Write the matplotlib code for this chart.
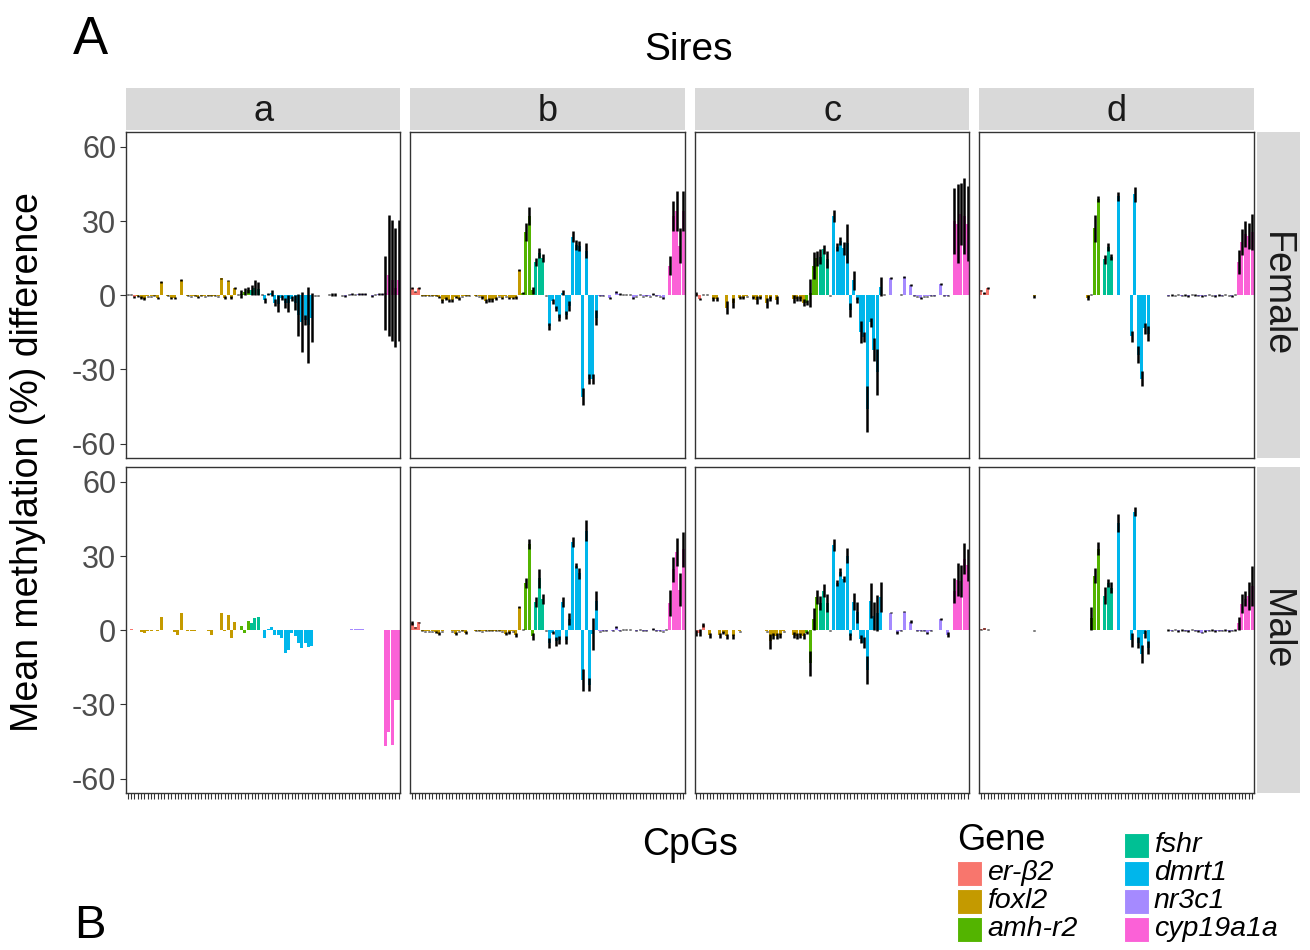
import numpy as np
import matplotlib
matplotlib.use('Agg')
import matplotlib.pyplot as plt
from matplotlib.patches import Rectangle

plt.rcParams['font.family'] = ['Liberation Sans', 'DejaVu Sans']

nan = float('nan')

# genes in CpG order and the number of CpGs in each
genes = ['er-β2', 'foxl2', 'amh-r2', 'fshr', 'dmrt1', 'nr3c1', 'cyp19a1a']
gene_sizes = [3, 30, 4, 4, 15, 21, 5]
gene_colors = ['#F8766D', '#C49A00', '#53B400', '#00C094', '#00B6EB', '#A58AFF', '#FB61D7']

sires = ['a', 'b', 'c', 'd']
sexes = ['Female', 'Male']

# ---- sire a ----
a_female_mean = ([0.3, 0.2, -0.8] +
                 [-0.3, -1, -1.5, -0.5, -0.5, -0.3, -1.2, 5.5, 0, -0.3, -1, -1, 0, 6.2, 0,
                  -0.3, -0.5, -0.3, -0.8, -0.3, -0.4, -0.3, -0.3, -0.2, -0.5, 6.8, -1, 5.9, -1, 2.8] +
                 [0.3, 0.5, 1.5, 2.0] +
                 [2, 3, 2.6, 0.3] +
                 [-2, 0.5, 1, -3, -3.4, -1, -3.2, -3.3, -1.5, -3, -8, -10.8, -10, -12, -9] +
                 [0, 0, 0.1, 0.1, 0.2, 0.3, 0.3, 0.1, 0, -0.3, 0.3, 0.5, 0.3, 0.6, 0.6, 0.5, 0.1, -0.3, 0.3, 0.4, 0.5] +
                 [1, 8, 6, 3, 6])
a_female_se = ([0.3, 0.2, 0.3] +
               [0.3, 0.5, 0.6, 0.3, 0.3, 0.2, 0.5, 0.4, 0.1, 0.2, 0.4, 0.4, 0.1, 0.3, 0.1,
                0.2, 0.3, 0.2, 0.3, 0.2, 0.2, 0.2, 0.2, 0.2, 0.3, 0.3, 0.5, 0.3, 0.5, 0.4] +
               [0.3, 1.7, 1.4, 1.2] +
               [2, 3, 2.6, 0.3] +
               [1, 0.3, 1.3, 1.5, 3.4, 1.1, 2, 3.5, 1, 3, 8.4, 12, 2, 15.4, 10] +
               [0.2, 0.2, 0.2, 0.2, 0.3, 0.5, 0.5, 0.2, 0.2, 0.3, 0.3, 0.3, 0.3, 0.3, 0.3, 0.3, 0.2, 0.3, 0.4, 0.4, 0.4] +
               [15, 24.5, 24.5, 24, 24.5])
a_male_mean = ([0, 0.6, 0] +
               [0, -0.8, -1, -0.5, -0.3, 0, -0.3, 5.5, 0, 0, 0, -0.8, -1.8, 7.1, 0,
                -0.3, -0.3, -0.3, 0, 0, 0, -0.5, -1.8, 0, 0, 7.1, -0.5, 6, -3, 3.5] +
               [0, 1.7, -1.2, 3.9] +
               [3, 4.8, 5.2, 0] +
               [-3, 0.5, 1.3, -2, -2, -3, -9, -8, -1, -2.5, -5, -7, -5, -6.7, -6.5] +
               [0, 0, 0, 0, 0, 0, 0, 0, 0, 0, 0, 0.4, 0.4, 0.4, 0.4, 0, 0, 0, 0, 0.3, 0] +
               [-47, -41, -46.5, -28, -28])
a_male_se = [nan] * 82

# ---- sire b ----
b_female_mean = ([3, 1.5, 3] +
                 [-0.2, -0.3, -0.3, -0.3, -0.2, -0.8, -2.5, -1.5, -2, -2, -0.8, -1.5, -0.5, -0.3, -0.2,
                  0, -0.2, -0.5, -1, -2.2, -2, -2, -1.5, -0.5, -1, -0.5, -1, -1, -1, 10.2] +
                 [1, 25.6, 32, 2] +
                 [13.5, 17, 15, 0] +
                 [-12.6, -2.5, -5.5, -9, 1, -8, -4.5, 23.6, 20.3, 20, -41, 18, -34, -34, -9] +
                 [-0.3, -0.2, 0, -1, 0, 1.5, 0.5, 0.3, 0.3, 0.3, -1, -0.5, 0.3, -0.5, -0.3, -0.5, 0.5, -0.3, -0.5, -1, 0] +
                 [12, 32, 34, 20, 34])
b_female_se = ([0.5, 0.3, 0.5] +
               [0.2, 0.2, 0.2, 0.2, 0.2, 0.4, 0.8, 0.6, 0.6, 0.6, 0.4, 0.6, 0.3, 0.2, 0.2,
                0.1, 0.2, 0.3, 0.5, 0.8, 0.7, 0.7, 0.6, 0.3, 0.4, 0.3, 0.4, 0.4, 0.5, 0.3] +
               [0.5, 3.5, 3.5, 1.5] +
               [1.5, 2, 1.5, 0.2] +
               [1.5, 1, 1, 1.5, 1, 1.5, 2, 2.2, 2, 2, 3.5, 3, 2, 2, 3] +
               [0.2, 0.2, 0.1, 0.4, 0.1, 0.4, 0.3, 0.3, 0.3, 0.3, 0.4, 0.3, 0.3, 0.3, 0.2, 0.3, 0.3, 0.2, 0.3, 0.4, 0.1] +
               [4, 6, 8, 7, 8])
b_male_mean = ([2.8, 1.2, 3.2] +
               [-0.3, -0.5, -0.5, -0.5, -0.8, -1.5, -0.5, 0, 0, -0.5, -1.5, -0.5, -0.3, -1, 0,
                0, -0.3, -0.3, -0.5, -0.3, -0.3, -0.3, -0.3, -0.3, -0.5, -1.5, -1, -0.5, -2, 9.5] +
               [0.2, 19, 35, -2.5] +
               [11.5, 21, 12.5, 0] +
               [-5, -1, -4.5, -4, 11.5, -4, 4.5, 35.6, 26, 23, -20, 40.3, -22, -1.5, 12] +
               [-0.5, -0.3, -0.2, 0, -0.2, 1.5, -0.3, 0.3, 0.3, 0.3, 0, -0.2, 0.3, -0.2, -0.3, 0, 0.5, -0.3, -0.3, -0.5, 0.3] +
               [11, 24.7, 31.6, 16.4, 32.7])
b_male_se = ([0.8, 0.3, 0.3] +
             [0.2, 0.3, 0.3, 0.3, 0.4, 0.6, 0.3, 0.1, 0.1, 0.3, 0.6, 0.3, 0.2, 0.5, 0.1,
              0.1, 0.2, 0.2, 0.3, 0.2, 0.2, 0.2, 0.2, 0.2, 0.3, 0.6, 0.5, 0.3, 0.8, 0.4] +
             [0.2, 2, 2, 1.5] +
             [2, 3.8, 2, 0.2] +
             [2, 0.5, 1.7, 1.5, 2, 1.5, 2.3, 2, 1, 2.3, 4.4, 4.4, 2.7, 6.4, 4] +
             [0.3, 0.2, 0.2, 0.1, 0.2, 0.4, 0.2, 0.3, 0.3, 0.3, 0.1, 0.2, 0.3, 0.2, 0.2, 0.1, 0.3, 0.2, 0.2, 0.3, 0.2] +
             [5.4, 5, 5.7, 6.7, 7])

# ---- sire c ----
c_female_mean = ([0.5, -1.5, 0.3] +
                 [0.2, 0, -1.5, -1.5, 0, 0, -5, 0, -3, 0, -1, -1, -0.5, 0, -1,
                  -2, -1, 0, -3, -1.5, 0, -2, 0, 0, 0, 0, -1.5, -1.5, -1.5, -3] +
                 [-3, 1, 12, 15] +
                 [15.5, 18.5, 14.5, 0] +
                 [32, 19.5, 22, 19, 21, -6, 6, -2, -15, -17, -46, -11, -22, -31, 3.5] +
                 [0.3, 0, 6.8, 0, 0, 0.2, 7.5, 0, 4, -0.3, -0.5, -1, -0.5, -0.5, -0.3, -0.3, 0, 4.5, -0.3, -0.3, 0] +
                 [30, 29, 33, 32, 29])
c_female_se = ([0.8, 0.5, 0.3] +
               [0.2, 0, 0.8, 0.8, 0, 0, 2.5, 0, 2, 0, 0.5, 0.5, 0.3, 0, 0.5,
                1.5, 0.5, 0, 2, 1, 0, 1.5, 0, 0, 0, 0, 1.5, 1, 1, 1.5] +
               [1, 5.7, 5.4, 3] +
               [3, 2, 3.4, 0.2] +
               [2.3, 1.5, 1.5, 2.7, 8, 2.7, 4, 1.3, 4.4, 2, 9.4, 2, 4.7, 9.4, 4] +
               [0.2, 0.1, 0.4, 0.1, 0.1, 0.2, 0.4, 0.1, 0.4, 0.2, 0.3, 0.4, 0.3, 0.3, 0.2, 0.2, 0.1, 0.4, 0.2, 0.2, 0.1] +
               [13.5, 15.8, 12.5, 15.5, 15])
c_male_mean = ([-1, -1, 2] +
               [0, -2, 0, 0, -2, -1, -2.5, 0, -2.5, 0, -0.5, 0, 0, 0, 0,
                0, 0, 0, -0.5, -4.5, -2.5, -2.5, -2, -0.5, 0, 0, -2, -2.5, -2, -2.5] +
               [-1, -13.4, 4.5, 13.5] +
               [11, 16, 11, 0] +
               [34.5, 19, 23.5, 20.8, 30.2, -2.5, 11.6, 7.2, -3.5, -5, -16, 12, 5.8, 7, 13.5] +
               [0.2, 0, 7.1, 0, -1, -0.3, 7.5, 0, 3.5, 0, -0.3, -0.3, -0.3, -1.2, -0.3, 0, 0, 4.5, 0, -1.8, 0] +
               [16, 20.5, 20, 29, 26.5])
c_male_se = ([1.2, 1.5, 0.8] +
             [0, 1, 0, 0, 1, 0.5, 1, 0, 1, 0, 0.3, 0, 0, 0, 0,
              0, 0, 0, 0.3, 3, 1.2, 1.2, 1, 0.3, 0, 0, 1.2, 1.2, 1, 1.2] +
             [0.5, 5, 4.4, 2.7] +
             [3, 2.7, 3.7, 0.2] +
             [2.3, 1.3, 1.7, 1.3, 3.2, 1.3, 3.5, 4.4, 1.7, 2.3, 5.7, 7, 5.7, 7.4, 6] +
             [0.1, 0.1, 0.3, 0.1, 0.5, 0.2, 0.3, 0.1, 0.7, 0.1, 0.2, 0.2, 0.2, 0.5, 0.2, 0.1, 0.1, 0.3, 0.1, 1, 0.1] +
             [5, 6.7, 6.4, 6.4, 6.4])

# ---- sire d (many CpGs missing) ----
d_female_mean = ([2, 1, 3] +
                 [nan] * 13 + [-0.5] + [nan] * 15 + [-1] +
                 [0.3, 27, 39, nan] +
                 [14.5, 19.5, 15.5, nan] +
                 [40, nan, nan, nan, -16.6, 40.8, -24, -33.8, -13.4, -15.6, nan, nan, nan, nan, nan] +
                 [-0.2, 0.1, -0.1, 0.2, -0.2, 0.1, -0.3, 0.2, 0.1, -0.2, -0.3, -0.2, 0.2, -0.1, -0.3, 0.1, -0.2, 0.2, -0.1, -0.3, 0.2] +
                 [13.4, 21.5, 24.8, 24, 25.5])
d_female_se = ([0.3, 0.5, 0.5] +
               [nan] * 13 + [0.5] + [nan] * 15 + [1] +
               [0.2, 5.4, 1.2, nan] +
               [1.7, 1.7, 1.3, nan] +
               [1.7, nan, nan, nan, 2.3, 3, 3.4, 3, 2.3, 3, nan, nan, nan, nan, nan] +
               [0.3] * 21 +
               [5, 5.4, 5.4, 5.4, 7.4])
d_male_mean = ([0.5, 0.8, 0.3] +
               [nan] * 13 + [0] + [nan] * 16 +
               [4.8, 22, 33, nan] +
               [14, 19.2, 17.2, nan] +
               [43.4, nan, nan, nan, -4, 48, -5, -9.7, -1.6, -7, nan, nan, nan, nan, nan] +
               [0.1, -0.2, 0.2, -0.3, 0.1, -0.2, -0.3, 0.2, -0.2, -0.3, -1, -0.3, -0.2, 0.1, -0.3, -0.2, -0.2, 0.1, -0.3, -0.2, 0.1] +
               [2.8, 10.8, 12.8, 13.7, 18])
d_male_se = ([0.2, 0.2, 0.2] +
             [nan] * 13 + [0.3] + [nan] * 16 +
             [4.7, 3, 2.7, nan] +
             [3.4, 1.7, 2.3, nan] +
             [3.7, nan, nan, nan, 2.7, 1.7, 2.3, 3.7, 1.6, 2.7, nan, nan, nan, nan, nan] +
             [0.3] * 21 +
             [2.7, 4, 3, 5.7, 8])

panels = {
    ('a', 'Female'): (a_female_mean, a_female_se), ('a', 'Male'): (a_male_mean, a_male_se),
    ('b', 'Female'): (b_female_mean, b_female_se), ('b', 'Male'): (b_male_mean, b_male_se),
    ('c', 'Female'): (c_female_mean, c_female_se), ('c', 'Male'): (c_male_mean, c_male_se),
    ('d', 'Female'): (d_female_mean, d_female_se), ('d', 'Male'): (d_male_mean, d_male_se),
}

n_cpg = sum(gene_sizes)
x = np.arange(1, n_cpg + 1)
bar_colors = np.repeat(gene_colors, gene_sizes)

W, H = 1310, 950
fig = plt.figure(figsize=(W / 100, H / 100), dpi=100)


def rect(x0, y0, x1, y1):
    # pixel box (top-left origin) -> figure fraction
    return [x0 / W, 1 - y1 / H, (x1 - x0) / W, (y1 - y0) / H]


col_left = [126, 410.4, 694.8, 979.2]
col_w = 274.5
row_top = [132, 467]
row_h = 326
strip_grey = '#D9D9D9'

for r, sex in enumerate(sexes):
    for c, sire in enumerate(sires):
        x0 = col_left[c]
        y0 = row_top[r]
        ax = fig.add_axes(rect(x0, y0, x0 + col_w, y0 + row_h))
        mean, se = panels[(sire, sex)]
        mean = np.array(mean, dtype=float)
        se = np.array(se, dtype=float)
        assert len(mean) == n_cpg and len(se) == n_cpg
        ax.bar(x, np.nan_to_num(mean), width=0.9, color=bar_colors, linewidth=0)
        ok = np.isfinite(se) & np.isfinite(mean)
        ax.vlines(x[ok], mean[ok] - se[ok], mean[ok] + se[ok], color='black', lw=1.8)
        ax.set_xlim(0.5, n_cpg + 0.5)
        ax.set_ylim(-65.8, 66.0)
        for sp in ax.spines.values():
            sp.set_color('#333333')
            sp.set_linewidth(1.0)
        ax.set_yticks([-60, -30, 0, 30, 60])
        if c == 0:
            ax.set_yticklabels(['-60', '-30', '0', '30', '60'])
            ax.tick_params(axis='y', length=4, width=0.8, color='#333333',
                           labelsize=22, labelcolor='#4D4D4D', pad=3)
        else:
            ax.tick_params(axis='y', length=0, labelleft=False)
        if r == 1:
            ax.set_xticks(x)
            ax.tick_params(axis='x', length=4, width=0.8, color='#333333', labelbottom=False)
        else:
            ax.set_xticks([])

        if r == 0:
            sax = fig.add_axes(rect(x0, 88, x0 + col_w, 130))
            sax.set_facecolor(strip_grey)
            sax.set_xticks([])
            sax.set_yticks([])
            for sp in sax.spines.values():
                sp.set_visible(False)
            sax.text(0.5, 0.45, sire, ha='center', va='center', fontsize=26, color='#1A1A1A',
                     transform=sax.transAxes)
    rax = fig.add_axes(rect(1257, row_top[r], 1300, row_top[r] + row_h))
    rax.set_facecolor(strip_grey)
    rax.set_xticks([])
    rax.set_yticks([])
    for sp in rax.spines.values():
        sp.set_visible(False)
    rax.text(0.45, 0.5, sex, ha='center', va='center', rotation=-90, fontsize=27,
             color='#1A1A1A', transform=rax.transAxes)

# titles
fig.text(688 / W, 1 - 50 / H, 'Sires', ha='center', va='center', fontsize=28)
fig.text(690 / W, 1 - 845 / H, 'CpGs', ha='center', va='center', fontsize=27)
fig.text(28 / W, 1 - 462 / H, 'Mean methylation (%) difference', ha='center', va='center',
         rotation=90, fontsize=27)
fig.text(90 / W, 1 - 40 / H, 'A', ha='center', va='center', fontsize=38)
fig.text(90 / W, 1 - 948 / H, 'B', ha='center', va='bottom', fontsize=34)

# legend
fig.text(957 / W, 1 - 841 / H, 'Gene', ha='left', va='center', fontsize=26)
legend_cells = [(957, 873), (957, 901), (957, 929), (1124, 845), (1124, 873), (1124, 901), (1124, 929)]
for g, col, (lx, ly) in zip(genes, gene_colors, legend_cells):
    fig.patches.append(Rectangle((lx / W, 1 - (ly + 12.5) / H), 25 / W, 25 / H,
                                 transform=fig.transFigure, facecolor=col, edgecolor='white', lw=0.8))
    fig.text((lx + 30) / W, 1 - ly / H, g, ha='left', va='center', fontsize=20.5, style='italic')

fig.savefig('out.png', dpi=100)
